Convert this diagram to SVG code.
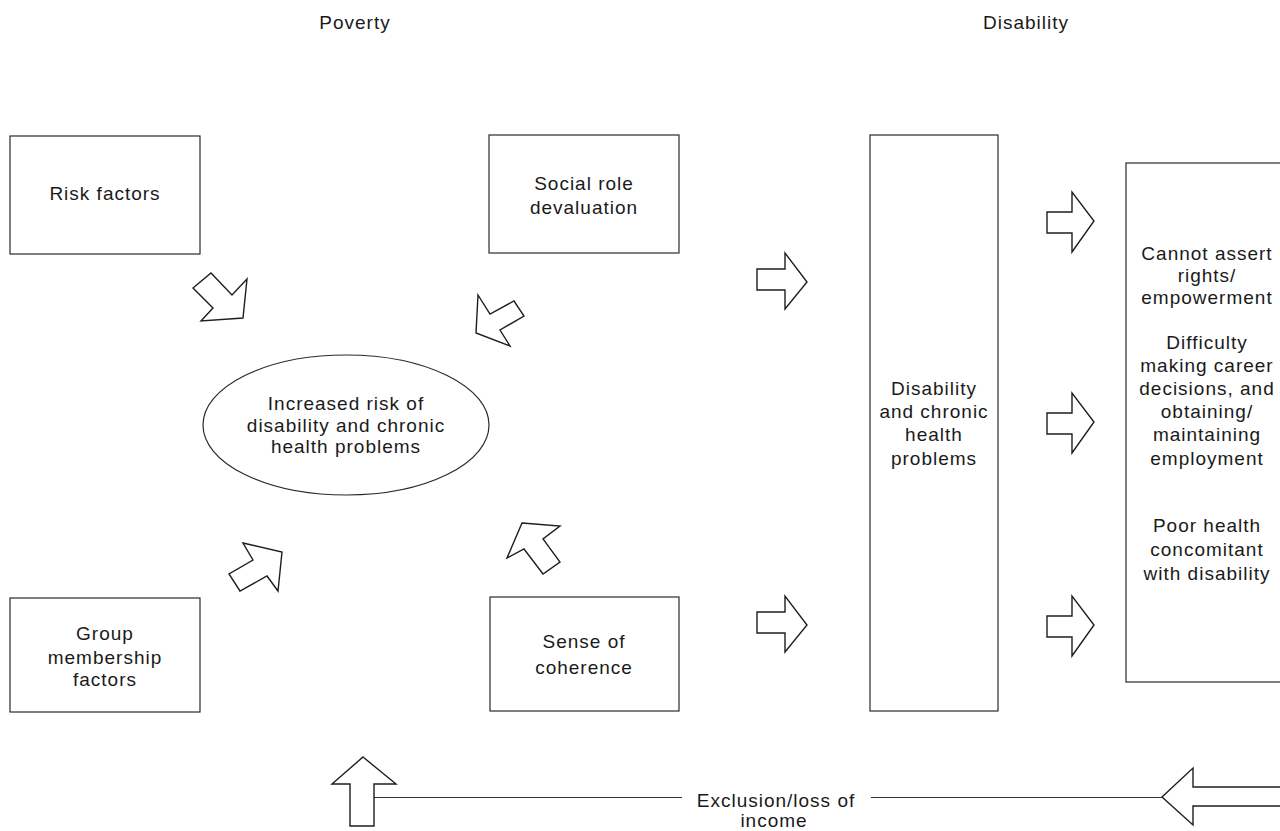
<svg xmlns="http://www.w3.org/2000/svg" width="1280" height="831" viewBox="0 0 1280 831">
<style>
.box{fill:#fff;stroke:#2a2a2a;stroke-width:1.2}
.arr{fill:#fff;stroke:#1e1e1e;stroke-width:1.4;stroke-linejoin:miter}
.ln{stroke:#333;stroke-width:1.2;fill:none}
text{font-family:"Liberation Sans",Arial,sans-serif;font-size:19px;letter-spacing:1px;fill:#1a1a1a;text-anchor:middle}
</style>
<rect width="1280" height="831" fill="#fff"/>
<g id="headers">
<text x="355" y="29">Poverty</text>
<text x="1026" y="29">Disability</text>
</g>
<g id="risk-factors">
<rect class="box" x="10" y="136" width="190" height="118"/>
<text x="105" y="200">Risk factors</text>
</g>
<g id="social-role">
<rect class="box" x="489" y="135" width="190" height="118"/>
<text x="584" y="190">Social role</text>
<text x="584" y="214">devaluation</text>
</g>
<g id="group-membership">
<rect class="box" x="10" y="598" width="190" height="114"/>
<text x="105" y="640">Group</text>
<text x="105" y="664">membership</text>
<text x="105" y="686">factors</text>
</g>
<g id="sense-coherence">
<rect class="box" x="490" y="597" width="189" height="114"/>
<text x="584" y="648">Sense of</text>
<text x="584" y="674">coherence</text>
</g>
<g id="increased-risk">
<ellipse class="box" cx="346" cy="425" rx="143" ry="70"/>
<text x="346" y="410">Increased risk of</text>
<text x="346" y="431.5">disability and chronic</text>
<text x="346" y="453">health problems</text>
</g>
<g id="disability-box">
<rect class="box" x="870" y="135" width="128" height="576"/>
<text x="934" y="395">Disability</text>
<text x="934" y="418">and chronic</text>
<text x="934" y="441">health</text>
<text x="934" y="465">problems</text>
</g>
<g id="outcomes">
<rect class="box" x="1126" y="163" width="200" height="519"/>
<text x="1207" y="260">Cannot assert</text>
<text x="1207" y="282">rights/</text>
<text x="1207" y="304">empowerment</text>
<text x="1207" y="349">Difficulty</text>
<text x="1207" y="372">making career</text>
<text x="1207" y="395">decisions, and</text>
<text x="1207" y="418">obtaining/</text>
<text x="1207" y="441">maintaining</text>
<text x="1207" y="465">employment</text>
<text x="1207" y="532">Poor health</text>
<text x="1207" y="556">concomitant</text>
<text x="1207" y="580">with disability</text>
</g>
<g id="connectors">
<polygon class="arr" points="211,273 232,295 247,279 243,318 201,321 213,308 193,288"/>
<polygon class="arr" points="478,295 490,314 514,301 524,316 500,330 510,346 476,333"/>
<polygon class="arr" points="243,543 282,552 278,591 267,576 240,591 229,574 253,560"/>
<polygon class="arr" points="522,523 560,526 543,539 560,562 543,574 524,549 507,558"/>
<polygon class="arr" points="757,269 785,269 785,253 807,282 785,309 785,290 757,290"/>
<polygon class="arr" points="757,612 785,612 785,596 807,625 785,652 785,633 757,633"/>
<polygon class="arr" points="1047,212 1072,212 1072,192 1094,221 1072,252 1072,233 1047,233"/>
<polygon class="arr" points="1047,413 1072,413 1072,393 1094,422 1072,453 1072,434 1047,434"/>
<polygon class="arr" points="1047,616 1072,616 1072,596 1094,625 1072,656 1072,637 1047,637"/>
<line class="ln" x1="374" y1="797.5" x2="682" y2="797.5"/>
<line class="ln" x1="871" y1="797.5" x2="1162" y2="797.5"/>
<polygon class="arr" points="363,757 396,784 374,784 374,826 350,826 350,784 332,784"/>
<polygon class="arr" points="1162,797 1193,768 1193,787 1290,787 1290,806 1193,806 1193,825"/>
<text x="776" y="807">Exclusion/loss of</text>
<text x="774" y="827">income</text>
</g>
</svg>
